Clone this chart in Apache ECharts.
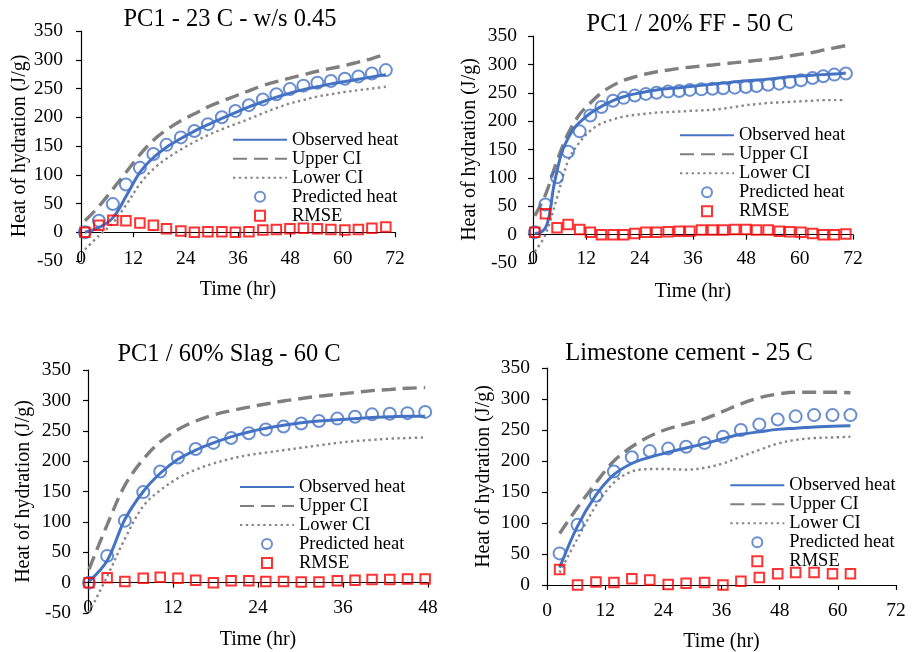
<!DOCTYPE html>
<html>
<head>
<meta charset="utf-8">
<script src="https://cdn.jsdelivr.net/npm/echarts@6/dist/echarts.min.js"></script>
<style>
  html, body { margin: 0; padding: 0; background: #ffffff; }
  #chart { width: 917px; height: 652px; }
</style>
</head>
<body>
<div id="chart"></div>
<script>
// ---- Series names and shared labels ----
const seriesNames = ['Observed heat', 'Upper CI', 'Lower CI', 'Predicted heat', 'RMSE'];
const panelTitles = ['PC1 - 23 C - w/s 0.45', 'PC1 / 20% FF - 50 C', 'PC1 / 60% Slag - 60 C', 'Limestone cement - 25 C'];
const xAxisTitle = 'Time (hr)';
const yAxisTitle = 'Heat of hydration (J/g)';

// ---- PC1 - 23 C - w/s 0.45 ----
const pc1Time = [0.9, 4.1, 7.3, 10.3, 13.5, 16.6, 19.6, 22.9, 26.0, 29.1, 32.3, 35.4, 38.5, 41.7, 44.8, 47.9, 51.0, 54.2, 57.3, 60.5, 63.6, 66.7, 69.9];
const pc1Observed = [0, 8, 25, 62, 104, 130, 148, 163, 176, 187, 198, 208, 218, 227, 235, 242, 248, 253, 258, 262, 266, 270, 274];
const pc1Upper = [20, 45, 75, 104, 135, 160, 178, 194, 206, 218, 228, 237, 246, 255, 262, 268, 274, 280, 285, 290, 296, 302, 310];
const pc1Lower = [-30, -6, 16, 47, 84, 110, 128, 144, 157, 169, 179, 188, 197, 207, 216, 224, 230, 236, 240, 244, 247, 250, 253];
const pc1Predicted = [0, 20, 49, 83, 112, 136, 152, 165, 176, 188, 200, 211, 221, 231, 240, 249, 255, 260, 263, 267, 271, 276, 282];
const pc1Rmse = [0, 12, 21, 20, 16, 12, 6, 2, 0, 1, 1, 0, 1, 4, 5, 6, 7, 6, 5, 4, 5, 7, 9];

// ---- PC1 / 20% FF - 50 C ----
const ffTime = [0.4, 2.8, 5.4, 7.9, 10.5, 12.9, 15.4, 18.0, 20.4, 22.9, 25.4, 27.8, 30.4, 32.9, 35.3, 37.9, 40.4, 42.8, 45.4, 47.9, 50.3, 52.9, 55.4, 57.8, 60.3, 62.9, 65.3, 67.8, 70.4];
const ffObservedTime = [0.4, 2.0, 3.0, 3.8, 4.6, 5.4, 6.5, 7.9, 9.2, 10.5, 12.9, 15.4, 18.0, 20.4, 22.9, 27.8, 32.9, 37.9, 42.8, 47.9, 52.9, 57.8, 62.9, 67.8, 70.4];
const ffObserved = [2, 5, 15, 40, 82, 112, 145, 170, 187, 198, 214, 226, 236, 243, 248, 255, 259, 263, 267, 271, 274, 278, 281, 283, 285];
const ffUpper = [33, 70, 130, 178, 212, 232, 250, 263, 272, 278, 283, 287, 290, 293, 295, 297, 299, 301, 303, 305, 307, 309, 312, 315, 318, 321, 325, 329, 333];
const ffLower = [-30, 0, 65, 130, 163, 183, 196, 203, 208, 211, 213, 215, 216, 217, 218, 219, 220, 222, 225, 228, 230, 232, 233, 234, 235, 236, 237, 237, 237];
const ffPredicted = [4, 53, 101, 146, 182, 210, 225, 236, 241, 245, 248, 250, 252, 253, 255, 256, 257, 258, 259, 260, 262, 264, 266, 269, 272, 276, 279, 282, 284];
const ffRmse = [4, 37, 12, 18, 9, 4, 0, 0, 0, 2, 4, 4, 5, 6, 6, 8, 8, 8, 9, 9, 8, 8, 6, 5, 4, 2, 0, 0, 1];

// ---- PC1 / 60% Slag - 60 C ----
const slagTime = [0.14, 2.7, 5.2, 7.8, 10.2, 12.7, 15.2, 17.7, 20.2, 22.7, 25.1, 27.6, 30.1, 32.6, 35.2, 37.7, 40.1, 42.6, 45.1, 47.6];
const slagObserved = [2, 36, 104, 150, 180, 203, 218, 230, 240, 248, 254, 259, 263, 266, 268, 270, 272, 273, 274, 274];
const slagUpper = [22, 95, 160, 203, 232, 252, 266, 276, 283, 289, 294, 299, 303, 307, 310, 313, 316, 318, 320, 321];
const slagLower = [-49, 10, 72, 126, 152, 172, 186, 196, 204, 210, 214, 218, 222, 226, 230, 233, 235, 237, 238, 239];
const slagPredicted = [0, 44, 102, 149, 183, 206, 220, 230, 238, 246, 252, 257, 262, 266, 270, 273, 277, 278, 279, 281];
const slagRmse = [0, 8, 2, 7, 9, 7, 4, 0, 3, 3, 2, 2, 1, 1, 3, 4, 5, 5, 6, 6];

// ---- Limestone cement - 25 C ----
const limeTime = [2.6, 6.3, 10.1, 13.8, 17.5, 21.2, 25.0, 28.7, 32.5, 36.3, 40.0, 43.8, 47.6, 51.3, 55.1, 58.9, 62.6];
const limeObserved = [28, 95, 145, 178, 196, 206, 214, 221, 228, 236, 243, 247, 251, 253, 255, 256, 257];
const limeUpper = [83, 125, 165, 200, 223, 240, 252, 260, 268, 280, 292, 302, 308, 311, 311, 311, 310];
const limeLower = [20, 75, 128, 165, 183, 187, 187, 186, 189, 196, 207, 218, 228, 234, 237, 238, 239];
const limePredicted = [51, 97, 144, 183, 206, 216, 220, 223, 229, 239, 250, 259, 267, 272, 274, 274, 274];
const limeRmse = [25, 0, 5, 4, 10, 8, 1, 3, 4, 0, 6, 12, 18, 20, 20, 18, 18];

// ---- Axis ranges and ticks ----
const xMaxes = [72, 72, 48, 72];
const yMins = [-50, -50, -50, 0];
const yMax = 350;
const xStep = 12;
const yStep = 50;

// Which arrays belong to each panel
const panelData = [
  { t: pc1Time, obsT: pc1Time, obs: pc1Observed, up: pc1Upper, lo: pc1Lower, pred: pc1Predicted, err: pc1Rmse },
  { t: ffTime, obsT: ffObservedTime, obs: ffObserved, up: ffUpper, lo: ffLower, pred: ffPredicted, err: ffRmse },
  { t: slagTime, obsT: slagTime, obs: slagObserved, up: slagUpper, lo: slagLower, pred: slagPredicted, err: slagRmse },
  { t: limeTime, obsT: limeTime, obs: limeObserved, up: limeUpper, lo: limeLower, pred: limePredicted, err: limeRmse }
];

// ---- Layout of the four panels (pixels) ----
// x labels sit near the bottom of the plot area, the x axis line itself runs along y = 0
const layout = [
  { grid: { left: 81, top: 31, width: 314, height: 230 }, title: [230, 19.5], legend: [232, 139.3], xNameGap: 19, yNameGap: 45, xLabelMargin: -12, yLabelMargin: 18 },
  { grid: { left: 533, top: 36, width: 320, height: 227 }, title: [690, 25], legend: [679, 135], xNameGap: 19, yNameGap: 53, xLabelMargin: -14, yLabelMargin: 16 },
  { grid: { left: 88, top: 370, width: 340, height: 243 }, title: [229, 355], legend: [239, 486.7], xNameGap: 17, yNameGap: 54, xLabelMargin: -15, yLabelMargin: 17 },
  { grid: { left: 547, top: 368, width: 349, height: 217 }, title: [689, 353.7], legend: [729.3, 485], xNameGap: 47, yNameGap: 53, xLabelMargin: 16, yLabelMargin: 17 }
];

const FONT = '"Liberation Serif", "Times New Roman", serif';
const BLUE = '#4472C4';
const GREY = '#7F7F7F';
const DOT_GREY = '#878787';
const RED = '#FF0000';
const CLEAR = 'rgba(255,255,255,0)';
const SQUARE = 'path://M0 0H10V10H0Z';

function pairs(xs, ys) {
  return xs.map((x, i) => [x, ys[i]]);
}

// Legend entries: the line entries show only their stroke, no marker
const legendEntries = seriesNames.map((name, k) =>
  k < 3 ? { name: name, itemStyle: { opacity: 0 } } : { name: name }
);

const grids = [], xAxes = [], yAxes = [], titles = [], legends = [], series = [];

layout.forEach((L, i) => {
  const d = panelData[i];
  grids.push(Object.assign({ containLabel: false, outerBoundsMode: 'none' }, L.grid));

  titles.push({
    text: panelTitles[i],
    left: L.title[0],
    top: L.title[1],
    textAlign: 'center',
    textVerticalAlign: 'middle',
    padding: 0,
    textStyle: { fontFamily: FONT, fontSize: 24.5, fontWeight: 'normal', color: '#000' }
  });

  xAxes.push({
    gridIndex: i,
    type: 'value',
    min: 0,
    max: xMaxes[i],
    interval: xStep,
    name: xAxisTitle,
    nameLocation: 'middle',
    nameGap: L.xNameGap,
    nameTextStyle: { fontFamily: FONT, fontSize: 20, color: '#000' },
    axisLine: { show: true, onZero: true, lineStyle: { color: '#000', width: 1.2 } },
    axisTick: { show: true, inside: false, length: 5, lineStyle: { color: '#000', width: 1.2 } },
    axisLabel: { margin: L.xLabelMargin, fontFamily: FONT, fontSize: 19.5, color: '#000' },
    splitLine: { show: false }
  });

  yAxes.push({
    gridIndex: i,
    type: 'value',
    min: yMins[i],
    max: yMax,
    interval: yStep,
    name: yAxisTitle,
    nameLocation: 'middle',
    nameRotate: 90,
    nameGap: L.yNameGap,
    nameTextStyle: { fontFamily: FONT, fontSize: 20, color: '#000' },
    axisLine: { show: true, onZero: false, lineStyle: { color: '#000', width: 1.2 } },
    axisTick: { show: true, inside: false, length: 5, lineStyle: { color: '#000', width: 1.2 } },
    axisLabel: { margin: L.yLabelMargin, fontFamily: FONT, fontSize: 19.5, color: '#000' },
    splitLine: { show: false }
  });

  legends.push({
    orient: 'vertical',
    left: L.legend[0],
    top: L.legend[1] - 9.15,
    padding: 0,
    itemWidth: 54,
    itemHeight: 10,
    itemGap: 0,
    selectedMode: false,
    symbolKeepAspect: true,
    data: legendEntries,
    textStyle: { fontFamily: FONT, fontSize: 18.5, color: '#000', lineHeight: 18.3 }
  });

  const axisRef = { xAxisIndex: i, yAxisIndex: i };
  series.push(Object.assign({
    name: seriesNames[1], type: 'line', data: pairs(d.t, d.up), symbol: 'none', smooth: 0.35,
    lineStyle: { color: GREY, width: 3.4, type: [14, 7] }, itemStyle: { color: GREY }, z: 2
  }, axisRef));
  series.push(Object.assign({
    name: seriesNames[2], type: 'line', data: pairs(d.t, d.lo), symbol: 'none', smooth: 0.35,
    lineStyle: { color: DOT_GREY, width: 2.4, type: [2.4, 3.4] }, itemStyle: { color: DOT_GREY }, z: 2
  }, axisRef));
  series.push(Object.assign({
    name: seriesNames[0], type: 'line', data: pairs(d.obsT, d.obs), symbol: 'none', smooth: 0.35,
    lineStyle: { color: BLUE, width: 3 }, itemStyle: { color: BLUE }, z: 3
  }, axisRef));
  series.push(Object.assign({
    name: seriesNames[3], type: 'scatter', data: pairs(d.t, d.pred), symbol: 'circle', symbolSize: 12,
    itemStyle: { color: CLEAR, borderColor: BLUE, borderWidth: 2 }, z: 4
  }, axisRef));
  series.push(Object.assign({
    name: seriesNames[4], type: 'scatter', data: pairs(d.t, d.err), symbol: SQUARE, symbolSize: 9.5,
    symbolKeepAspect: true,
    itemStyle: { color: CLEAR, borderColor: RED, borderWidth: 2 }, z: 4
  }, axisRef));
});

const chart = echarts.init(document.getElementById('chart'), null, { renderer: 'canvas' });
chart.setOption({
  backgroundColor: '#ffffff',
  animation: false,
  title: titles,
  legend: legends,
  grid: grids,
  xAxis: xAxes,
  yAxis: yAxes,
  series: series
});
</script>
</body>
</html>
